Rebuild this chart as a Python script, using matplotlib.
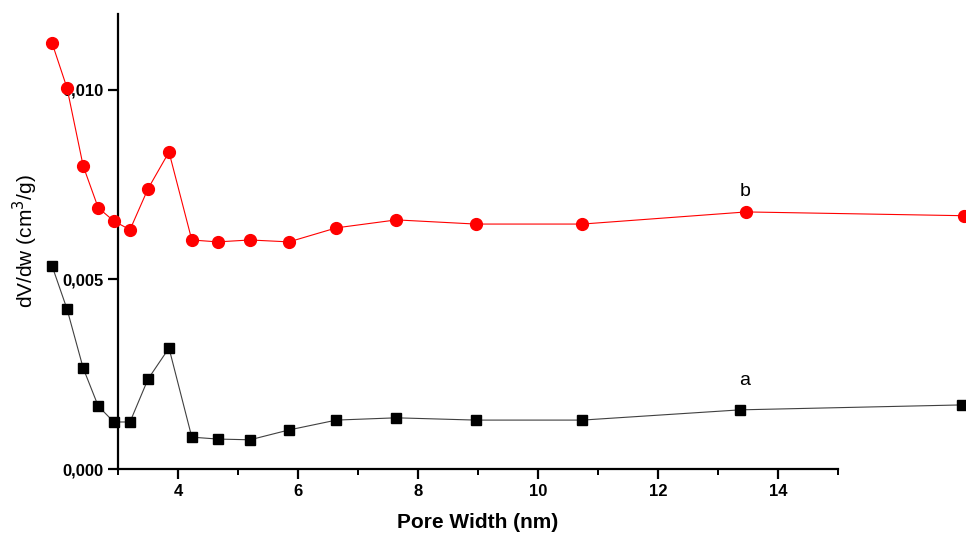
import numpy as np
import matplotlib
matplotlib.use("Agg")
import matplotlib.pyplot as plt
from matplotlib.ticker import MultipleLocator, FuncFormatter

# pore width (nm) and dV/dw (cm3/g)
width_a = [1.90, 2.15, 2.42, 2.67, 2.93, 3.20, 3.50, 3.85, 4.23, 4.66, 5.20,
           5.85, 6.64, 7.64, 8.96, 10.74, 13.37, 17.06]
dvdw_a = [5.36e-3, 4.22e-3, 2.66e-3, 1.66e-3, 1.24e-3, 1.24e-3, 2.37e-3, 3.19e-3,
          0.84e-3, 0.79e-3, 0.77e-3, 1.03e-3, 1.29e-3, 1.35e-3, 1.29e-3, 1.29e-3,
          1.56e-3, 1.69e-3]

width_b = [1.90, 2.15, 2.42, 2.67, 2.93, 3.20, 3.50, 3.85, 4.23, 4.66, 5.20,
           5.85, 6.64, 7.64, 8.96, 10.74, 13.47, 17.10]
dvdw_b = [11.24e-3, 10.05e-3, 7.99e-3, 6.89e-3, 6.54e-3, 6.31e-3, 7.39e-3, 8.36e-3,
          6.04e-3, 5.99e-3, 6.04e-3, 5.99e-3, 6.36e-3, 6.57e-3, 6.46e-3, 6.46e-3,
          6.78e-3, 6.68e-3]

plt.rcParams['font.family'] = ['Liberation Sans', 'DejaVu Sans']

fig = plt.figure(figsize=(9.66, 5.34), dpi=100)
ax = fig.add_axes([118/966, 65/534, 720/966, 455/534])

ax.plot(width_b, dvdw_b, color='#ff0000', lw=0.8, marker='o', ms=8.5,
        mec='#ff0000', mfc='#ff0000', clip_on=False, zorder=3)
ax.plot(width_a, dvdw_a, color='#404040', lw=0.8, marker='s', ms=7.5,
        mec='black', mfc='black', clip_on=False, zorder=3)

ax.text(13.45, 0.0071, 'b', fontsize=14, ha='center', va='bottom')
ax.text(13.45, 0.0021, 'a', fontsize=14, ha='center', va='bottom')

ax.set_xlim(3, 15)
ax.set_ylim(0, 0.012)
ax.spines['top'].set_visible(False)
ax.spines['right'].set_visible(False)
for s in ('left', 'bottom'):
    ax.spines[s].set_linewidth(1.6)

ax.xaxis.set_minor_locator(MultipleLocator(1))
ax.set_xticks([4, 6, 8, 10, 12, 14])
ax.yaxis.set_major_locator(MultipleLocator(0.005))
ax.yaxis.set_major_formatter(FuncFormatter(lambda v, p: f"{v:.3f}".replace('.', ',')))

ax.tick_params(axis='both', which='major', direction='out', length=7, width=1.6,
               labelsize=12)
ax.tick_params(axis='x', which='minor', direction='out', length=4, width=1.4)
for lab in ax.get_xticklabels() + ax.get_yticklabels():
    lab.set_fontweight('bold')

ax.set_xlabel('Pore Width (nm)', fontsize=15, fontweight='bold')
ax.set_ylabel(r'dV/dw (cm$^3$/g)', fontsize=15)
ax.xaxis.set_label_coords(0.5, -0.097)
ax.yaxis.set_label_coords(-0.108, 0.5)

fig.savefig('out.png', dpi=100)
